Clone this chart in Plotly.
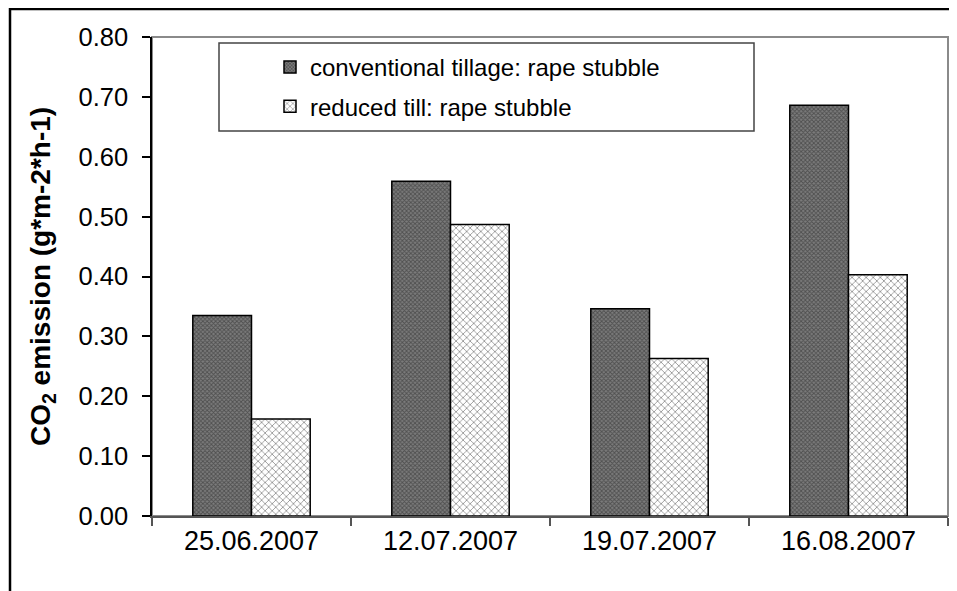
import plotly.graph_objects as go

categories = ["25.06.2007", "12.07.2007", "19.07.2007", "16.08.2007"]
conventional = [0.335, 0.559, 0.346, 0.686]
reduced = [0.162, 0.487, 0.263, 0.403]
series_names = ["conventional tillage: rape stubble", "reduced till: rape stubble"]
y_ticks = [0.0, 0.1, 0.2, 0.3, 0.4, 0.5, 0.6, 0.7, 0.8]

# the page places the figure 8px from the top-left corner (body margin)
OFF = 8
W, H = 957 - OFF, 591 - OFF
PLOT_L, PLOT_R, PLOT_T, PLOT_B = 152, 948, 37, 516   # in screenshot pixels
L = PLOT_L - OFF
R = W - (PLOT_R - OFF)
T = PLOT_T - OFF
B = H - (PLOT_B - OFF)
PW, PH = W - L - R, H - T - B

def px_x(x):
    return (x - OFF - L) / PW

def px_y(y):
    return (H - B - (y - OFF)) / PH

FONT = "Arial, Liberation Sans, sans-serif"

fig = go.Figure()
fig.add_trace(go.Bar(
    x=categories, y=conventional, name=series_names[0], legendgroup="a",
    marker=dict(color="#6a6a6a", line=dict(color="black", width=1.5),
                pattern=dict(shape="x", size=3, fgcolor="#222222", bgcolor="#7c7c7c", solidity=0.5)),
))
fig.add_trace(go.Bar(
    x=categories, y=reduced, name=series_names[1], legendgroup="b",
    marker=dict(color="white", line=dict(color="black", width=1.5),
                pattern=dict(shape="x", size=5, fgcolor="#222222", bgcolor="white", solidity=0.3)),
))

fig.update_layout(
    width=W, height=H,
    margin=dict(l=L, r=R, t=T, b=B, autoexpand=False),
    paper_bgcolor="white", plot_bgcolor="white",
    font=dict(family=FONT, size=24, color="black"),
    barmode="group", bargap=0.41, bargroupgap=0,
    showlegend=True,
    legend=dict(x=px_x(270), y=px_y(45), xanchor="left", yanchor="top",
                bgcolor="rgba(0,0,0,0)", borderwidth=0,
                font=dict(family=FONT, size=24, color="black"),
                traceorder="grouped", tracegroupgap=5),
    xaxis=dict(
        type="category", showline=True, linecolor="#555", linewidth=1.5,
        ticks="outside", tickson="boundaries", ticklen=8, tickcolor="#555", tickwidth=1.5,
        tickfont=dict(family=FONT, size=27, color="black"),
        showgrid=False, zeroline=False, automargin=False,
    ),
    yaxis=dict(
        range=[0, 0.8], tickvals=y_ticks, tickformat=".2f",
        showline=True, linecolor="black", linewidth=1.5,
        ticks="outside", ticklen=8, tickcolor="black", tickwidth=1.5,
        tickfont=dict(family=FONT, size=25.5, color="black"),
        ticklabelstandoff=9,
        showgrid=False, zeroline=False, automargin=False,
        title=dict(text="<b>CO<sub>2</sub> emission (g*m-2*h-1)</b>",
                   font=dict(family=FONT, size=28, color="black"), standoff=20),
    ),
    shapes=[
        # outer chart frame
        dict(type="rect", xref="paper", yref="paper",
             x0=px_x(10), x1=px_x(990), y0=px_y(640), y1=px_y(9),
             line=dict(color="black", width=2.5), layer="below"),
        # plot area border
        dict(type="rect", xref="paper", yref="paper", x0=0, x1=1, y0=0, y1=1,
             line=dict(color="#8a8a8a", width=2), layer="below"),
        # legend box
        dict(type="rect", xref="paper", yref="paper",
             x0=px_x(219), x1=px_x(754), y0=px_y(131), y1=px_y(43),
             line=dict(color="#444", width=1.5), fillcolor="white", layer="below"),
    ],
)

fig.write_html("out.html")
